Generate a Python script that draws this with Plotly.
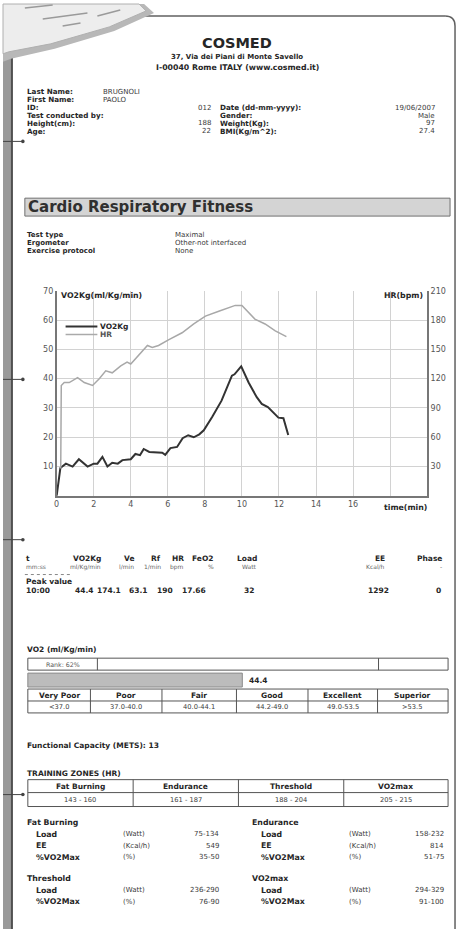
import plotly.graph_objects as go

W, H = 459, 929
FONT = "DejaVu Sans"
INK = "#262626"
VAL = "#3a3a3a"

# ---------------- chart data ----------------
vo2_t = [0.0, 0.2, 0.5, 0.86, 1.2, 1.67, 2.0, 2.2, 2.47, 2.74, 3.0, 3.3, 3.55, 4.0, 4.25, 4.5,
         4.7, 5.0, 5.7, 5.86, 6.14, 6.5, 6.8, 7.1, 7.4, 7.7, 7.94, 8.4, 8.9, 9.46, 9.6, 9.96,
         10.36, 10.8, 11.07, 11.4, 11.97, 12.24, 12.5]
vo2_v = [0, 9.5, 11, 10, 12.5, 10, 11, 11, 13.3, 10, 11.3, 11, 12.2, 12.5, 14.3, 13.9,
         16, 15, 14.7, 14, 16.3, 16.7, 19.7, 20.7, 20, 21, 22.4, 27, 32.5, 41, 41.5, 44.2,
         38.7, 33.7, 31.4, 30.3, 26.7, 26.5, 20.8]
hr_t = [0.22, 0.25, 0.41, 0.68, 1.13, 1.49, 1.94, 2.3, 2.65, 3.0, 3.46, 3.8, 4.0, 4.44, 4.9,
        5.16, 5.5, 6.06, 6.77, 7.4, 8.03, 8.75, 9.28, 9.64, 10.0, 10.36, 10.7, 11.25, 11.8, 12.4]
hr_v = [28, 113, 116, 116, 121, 116, 113, 120, 128, 126, 133, 137, 135, 144, 154,
        152, 154, 160, 167, 176, 184, 189, 193, 195, 195, 188, 181, 176, 169, 163]

x_ticks = [0, 2, 4, 6, 8, 10, 12, 14, 16, 18]
x_tick_text = ["0", "2", "4", "6", "8", "10", "12", "14", "16", ""]
y_ticks = [10, 20, 30, 40, 50, 60, 70]
y2_ticks = [30, 60, 90, 120, 150, 180, 210]

# ---------------- report text data ----------------
header_lines = ["37, Via dei Piani di Monte Savello", "I-00040 Rome ITALY (www.cosmed.it)"]
left_labels = ["Last Name:", "First Name:", "ID:", "Test conducted by:", "Height(cm):", "Age:"]
left_values = ["BRUGNOLI", "PAOLO", "012", "", "188", "22"]
right_labels = ["", "", "Date (dd-mm-yyyy):", "Gender:", "Weight(Kg):", "BMI(Kg/m^2):"]
right_values = ["", "", "19/06/2007", "Male", "97", "27.4"]
test_labels = ["Test type", "Ergometer", "Exercise protocol"]
test_values = ["Maximal", "Other-not interfaced", "None"]
col_names = ["t", "VO2Kg", "Ve", "Rf", "HR", "FeO2", "Load", "EE", "Phase"]
col_units = ["mm:ss", "ml/Kg/min", "l/min", "1/min", "bpm", "%", "Watt", "Kcal/h", "-"]
peak_values = ["10:00", "44.4", "174.1", "63.1", "190", "17.66", "32", "1292", "0"]
vo2_rank = "Rank: 62%"
vo2_value = 44.4
vo2_classes = ["Very Poor", "Poor", "Fair", "Good", "Excellent", "Superior"]
vo2_ranges = ["<37.0", "37.0-40.0", "40.0-44.1", "44.2-49.0", "49.0-53.5", ">53.5"]
mets = 13
zone_names = ["Fat Burning", "Endurance", "Threshold", "VO2max"]
zone_hr = ["143 - 160", "161 - 187", "188 - 204", "205 - 215"]
zone_rows = [
    ("Fat Burning", [("Load", "(Watt)", "75-134"), ("EE", "(Kcal/h)", "549"), ("%VO2Max", "(%)", "35-50")]),
    ("Endurance", [("Load", "(Watt)", "158-232"), ("EE", "(Kcal/h)", "814"), ("%VO2Max", "(%)", "51-75")]),
    ("Threshold", [("Load", "(Watt)", "236-290"), ("%VO2Max", "(%)", "76-90")]),
    ("VO2max", [("Load", "(Watt)", "294-329"), ("%VO2Max", "(%)", "91-100")]),
]

# ---------------- helpers (pixel -> paper) ----------------
ann, shp = [], []

def X(x):
    return x / W

def Y(y):
    return 1 - y / H

def T(x, y, s, size=7.5, bold=True, anchor="left", color=INK, family=FONT):
    ann.append(dict(x=X(x), y=Y(y), xref="paper", yref="paper", showarrow=False,
                    text=("<b>%s</b>" % s) if bold else s, xanchor=anchor, yanchor="middle",
                    font=dict(size=size, color=color, family=family), borderpad=0))

def R(x0, y0, x1, y1, fill="rgba(0,0,0,0)", line="#555", lw=1):
    shp.append(dict(type="rect", xref="paper", yref="paper", x0=X(x0), x1=X(x1), y0=Y(y1), y1=Y(y0),
                    fillcolor=fill, line=dict(color=line, width=lw), layer="above"))

def L(x0, y0, x1, y1, color="#555", lw=1, dash="solid"):
    shp.append(dict(type="line", xref="paper", yref="paper", x0=X(x0), x1=X(x1), y0=Y(y0), y1=Y(y1),
                    line=dict(color=color, width=lw, dash=dash), layer="above"))

def P(pts, fill, line="rgba(0,0,0,0)", lw=1):
    d = "M " + " L ".join("%.5f,%.5f" % (X(a), Y(b)) for a, b in pts) + " Z"
    shp.append(dict(type="path", xref="paper", yref="paper", path=d, fillcolor=fill,
                    line=dict(color=line, width=lw), layer="above"))

def C(x, y, r, color):
    shp.append(dict(type="circle", xref="paper", yref="paper", x0=X(x - r), x1=X(x + r),
                    y0=Y(y + r), y1=Y(y - r), fillcolor=color, line=dict(color=color, width=0), layer="above"))

# ---------------- page decoration ----------------
R(0, 30, 9, 929, fill="#9a9a9a", line="#9a9a9a", lw=0)
L(9, 30, 9, 929, color="#505050", lw=2)
L(455, 22, 455, 929, color="#606060", lw=1.5)
L(135, 12, 445, 12, color="#606060", lw=1.5)
shp.append(dict(type="path", xref="paper", yref="paper",
                path="M %f,%f Q %f,%f %f,%f" % (X(445), Y(12), X(455), Y(12), X(455), Y(22)),
                line=dict(color="#606060", width=1.5), layer="above"))
# curled sheet top-left
P([(0, 58), (0, 0), (142, 0), (152, 9), (112, 27), (52, 45), (8, 55)], "#b8b8b8")
P([(0, 50), (0, 0), (137, 0), (144, 7), (107, 23), (48, 40), (6, 48)], "#ededed", line="#b0b0b0")
for (a, b, c, d) in [(22, 4, 50, 1), (40, 15, 85, 9), (60, 22, 78, 19), (95, 12, 118, 6)]:
    L(a, b, c, d, color="#9a9a9a", lw=1.5)
for yy in [138, 377, 538, 794]:
    L(0, yy, 20, yy, color="#444", lw=1)
    C(20, yy, 1.8, "#444")

# ---------------- header ----------------
T(236, 39, "COSMED", size=14.5, anchor="center")
T(236, 53, header_lines[0], size=7, anchor="center")
T(236, 63.5, header_lines[1], size=7.8, anchor="center")

row_y = [88, 96, 104, 112, 120, 128]
for i, yy in enumerate(row_y):
    T(23, yy, left_labels[i], size=7.2)
    if left_values[i]:
        if i < 2:
            T(100, yy, left_values[i], size=7, bold=False, color=VAL)
        else:
            T(210, yy, left_values[i], size=7, bold=False, color=VAL, anchor="right")
    if right_labels[i]:
        T(217, yy, right_labels[i], size=7.2)
        T(436, yy, right_values[i], size=7, bold=False, color=VAL, anchor="right")

# Cardio Respiratory Fitness banner
R(22, 195, 450, 213, fill="#d4d4d4", line="#707070", lw=1)
T(24, 204, "Cardio Respiratory Fitness", size=15, color="#303030")

for i, yy in enumerate([231.5, 240, 248.5]):
    T(23, yy, test_labels[i], size=7)
    T(172, yy, test_values[i], size=7, bold=False, color=VAL)

# chart legend & axis captions
L(63, 324, 95, 324, color="#333", lw=2)
L(63, 332, 95, 332, color="#aaaaaa", lw=1.5)
T(97, 324, "VO2Kg", size=7.5)
T(97, 332, "HR", size=7.5, color="#555")
T(57, 293, "VO2Kg(ml/Kg/min)", size=7.8)
T(424, 293, "HR(bpm)", size=7.8, anchor="right")
T(428, 506, "time(min)", size=7.8, anchor="right")

# ---------------- results table ----------------
col_x = [22, 100, 133, 160, 183, 213, 257, 386, 443]
val_x = [22, 93, 120, 147, 172, 205, 254, 390, 442]
for i in range(len(col_names)):
    anc = "left" if i == 0 else "right"
    T(col_x[i], 557, col_names[i], size=7.5, anchor=anc)
    T(col_x[i], 565, col_units[i], size=6, bold=False, color="#666", anchor=anc)
    T(val_x[i], 589, peak_values[i], size=7.5, anchor=anc)
L(22, 573, 70, 573, color="#888", lw=1, dash="dot")
T(22, 580, "Peak value", size=7.5)

# ---------------- VO2 ranking ----------------
T(23, 648, "VO2 (ml/Kg/min)", size=7.5)
R(25, 657, 448, 669, line="#555")
L(95, 657, 95, 669, color="#555")
L(378, 657, 378, 669, color="#555")
T(60, 663, vo2_rank, size=6.3, bold=False, color="#555", anchor="center")
bar_end = 25 + (448 - 25) * vo2_value / 87.0
R(25, 672, bar_end, 686, fill="#bcbcbc", line="#8a8a8a")
T(bar_end + 6, 679, "%.1f" % vo2_value, size=7.5)
col_b = [25, 88, 160, 235, 307, 377, 448]
R(25, 688, 448, 712, line="#555")
L(25, 700, 448, 700, color="#555")
for j in range(len(vo2_classes)):
    if j > 0:
        L(col_b[j], 688, col_b[j], 712, color="#555")
    cx = (col_b[j] + col_b[j + 1]) / 2
    T(cx, 694, vo2_classes[j], size=7.5, anchor="center")
    T(cx, 706, vo2_ranges[j], size=6.7, bold=False, color=VAL, anchor="center")

T(23, 745, "Functional Capacity (METS): %d" % mets, size=7.5)

# ---------------- training zones ----------------
T(23, 773, "TRAINING ZONES (HR)", size=7.5)
zb = [25, 131, 237, 343, 448]
R(25, 779, 448, 806, line="#555")
L(25, 792, 448, 792, color="#555")
for j in range(len(zone_names)):
    if j > 0:
        L(zb[j], 779, zb[j], 806, color="#555")
    cx = (zb[j] + zb[j + 1]) / 2
    T(cx, 786, zone_names[j], size=7.5, anchor="center")
    T(cx, 799, zone_hr[j], size=6.7, bold=False, color=VAL, anchor="center")

blocks = [(23, 822), (250, 822), (23, 878), (250, 878)]
for (bx, by), (title, rows) in zip(blocks, zone_rows):
    T(bx, by, title, size=7.8)
    for k, (a, u, v) in enumerate(rows):
        yy = by + 12 + 11.5 * k
        T(bx + 9, yy, a, size=7.8)
        T(bx + 97, yy, u, size=7, bold=False, color=VAL)
        T(bx + 195, yy, v, size=7, bold=False, color=VAL, anchor="right")

# ---------------- figure ----------------
fig = go.Figure()
fig.add_trace(go.Scatter(x=hr_t, y=hr_v, mode="lines", yaxis="y2", name="HR",
                         line=dict(color="#a8a8a8", width=1.5), showlegend=False))
fig.add_trace(go.Scatter(x=vo2_t, y=vo2_v, mode="lines", name="VO2Kg",
                         line=dict(color="#333333", width=2), showlegend=False))

tickfont = dict(size=8, color="#555", family=FONT)
fig.update_layout(
    width=W, height=H, margin=dict(l=0, r=0, t=0, b=0),
    paper_bgcolor="white", plot_bgcolor="white",
    font=dict(family=FONT, color=INK),
    xaxis=dict(domain=[X(54), X(427)], range=[0, 20], tickvals=x_ticks, ticktext=x_tick_text,
               showgrid=True, gridcolor="#d2d2d2", gridwidth=1, zeroline=False,
               showline=True, linecolor="#777", linewidth=1.5, ticks="", tickfont=tickfont),
    yaxis=dict(domain=[Y(494), Y(288)], range=[0, 70], tickvals=y_ticks,
               showgrid=True, gridcolor="#d2d2d2", gridwidth=1, zeroline=False,
               showline=True, linecolor="#777", linewidth=1.5, ticks="", tickfont=tickfont),
    yaxis2=dict(overlaying="y", side="right", range=[0, 210], tickvals=y2_ticks,
                showgrid=False, zeroline=False, showline=True, linecolor="#777", linewidth=1.5,
                ticks="", tickfont=tickfont),
    annotations=ann, shapes=shp, showlegend=False,
)

fig.write_html("out.html", config={"displayModeBar": False},
               post_script="document.body.style.margin='0';document.body.style.overflow='hidden';")
